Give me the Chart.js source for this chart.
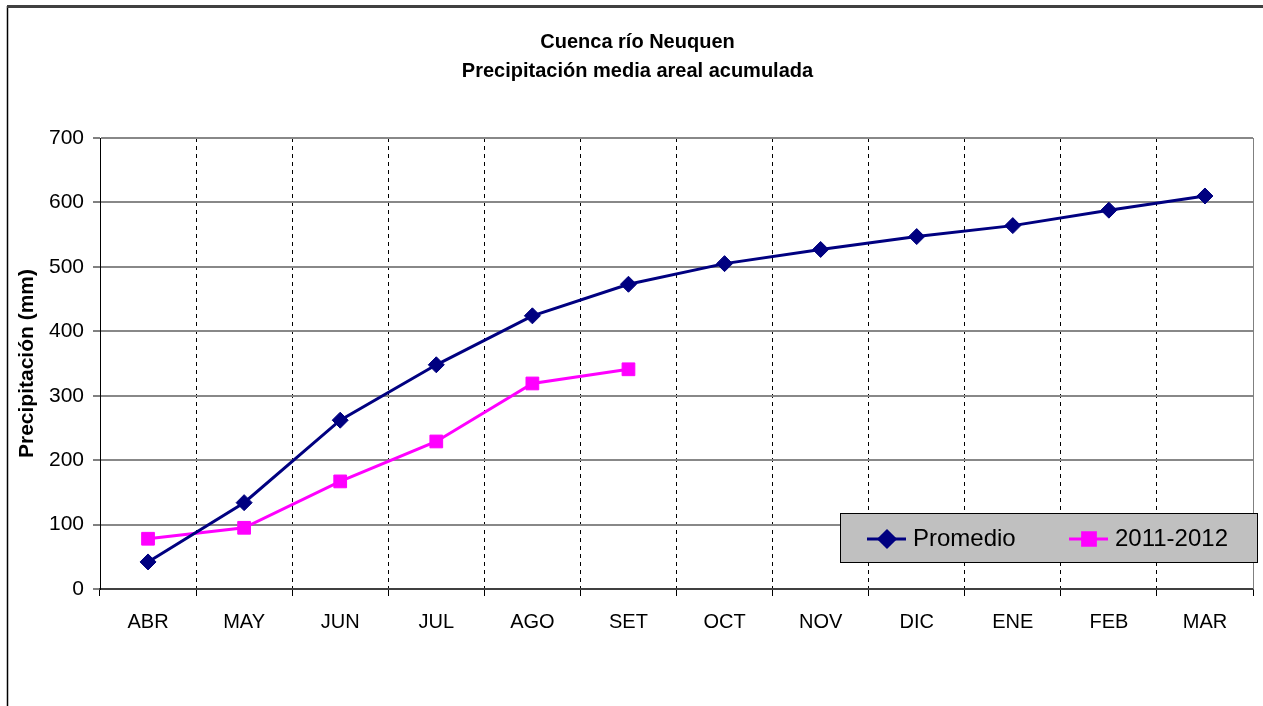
<!DOCTYPE html>
<html>
<head>
<meta charset="utf-8">
<title>Cuenca río Neuquen</title>
<script src="https://cdn.jsdelivr.net/npm/chart.js@4.4.1/dist/chart.umd.min.js"></script>
<style>
  html, body { margin: 0; padding: 0; background: #fff; }
  #wrap { width: 1263px; height: 706px; position: relative; }
</style>
</head>
<body>
<div id="wrap"><canvas id="precipChart"></canvas></div>
<script>
var meses = ["ABR", "MAY", "JUN", "JUL", "AGO", "SET", "OCT", "NOV", "DIC", "ENE", "FEB", "MAR"];
var promedio = [42, 134, 262, 348, 424, 473, 505, 527, 547, 564, 588, 610];
var temporada = [78, 95, 167, 229, 319, 341];
var yTicks = [0, 100, 200, 300, 400, 500, 600, 700];

var fuente = "'Liberation Sans', Arial, sans-serif";

// fondo blanco y marco exterior del grafico
var marco = {
    id: "marco",
    beforeDraw: function(chart) {
        var ctx = chart.ctx;
        ctx.save();
        ctx.fillStyle = "#fff";
        ctx.fillRect(0, 0, chart.width, chart.height);
        ctx.strokeStyle = "#000";
        ctx.lineWidth = 1.5;
        ctx.beginPath();
        ctx.moveTo(7.5, 6);
        ctx.lineTo(7.5, chart.height);
        ctx.stroke();
        ctx.strokeStyle = "#404040";
        ctx.lineWidth = 3;
        ctx.beginPath();
        ctx.moveTo(7, 6.5);
        ctx.lineTo(chart.width, 6.5);
        ctx.stroke();
        ctx.restore();
    },
    beforeDatasetsDraw: function(chart) {
        var a = chart.chartArea;
        var ctx = chart.ctx;
        ctx.save();
        ctx.strokeStyle = "#808080";
        ctx.lineWidth = 1;
        ctx.beginPath();
        ctx.moveTo(Math.round(a.right) + 0.5, a.top);
        ctx.lineTo(Math.round(a.right) + 0.5, a.bottom);
        ctx.stroke();
        ctx.restore();
    }
};

// leyenda en recuadro gris dentro del area del grafico
var leyenda = {
    id: "leyenda",
    afterDatasetsDraw: function(chart) {
        var ctx = chart.ctx;
        var x0 = 840, y0 = 513, w = 417, h = 49;
        ctx.save();
        ctx.fillStyle = "#c0c0c0";
        ctx.fillRect(x0, y0, w, h);
        ctx.strokeStyle = "#000";
        ctx.lineWidth = 1;
        ctx.strokeRect(x0 + 0.5, y0 + 0.5, w, h);

        var posiciones = [867, 1069];
        var yc = 539;
        chart.data.datasets.forEach(function(ds, i) {
            var lx = posiciones[i];
            ctx.strokeStyle = ds.borderColor;
            ctx.lineWidth = ds.borderWidth;
            ctx.beginPath();
            ctx.moveTo(lx, yc);
            ctx.lineTo(lx + 39, yc);
            ctx.stroke();
            ctx.fillStyle = ds.pointBackgroundColor;
            ctx.strokeStyle = ds.pointBorderColor;
            Chart.helpers.drawPoint(ctx, {
                pointStyle: ds.pointStyle,
                radius: ds.pointRadius,
                borderWidth: 1,
                rotation: 0
            }, lx + 20, yc);
            ctx.fillStyle = "#000";
            ctx.font = "24px " + fuente;
            ctx.textBaseline = "middle";
            ctx.textAlign = "left";
            ctx.fillText(ds.label, lx + 46, yc);
        });
        ctx.restore();
    }
};

var ctx = document.getElementById("precipChart");
var grafico = new Chart(ctx, {
    type: "line",
    data: {
        labels: meses,
        datasets: [
            {
                label: "Promedio",
                data: promedio,
                borderColor: "#000080",
                backgroundColor: "#000080",
                borderWidth: 3,
                pointStyle: "rectRot",
                pointRadius: 8,
                pointBackgroundColor: "#000080",
                pointBorderColor: "#000080",
                pointBorderWidth: 1,
                fill: false,
                tension: 0
            },
            {
                label: "2011-2012",
                data: temporada,
                borderColor: "#ff00ff",
                backgroundColor: "#ff00ff",
                borderWidth: 3,
                pointStyle: "rect",
                pointRadius: 9,
                pointBackgroundColor: "#ff00ff",
                pointBorderColor: "#ff00ff",
                pointBorderWidth: 1,
                fill: false,
                tension: 0
            }
        ]
    },
    options: {
        responsive: true,
        maintainAspectRatio: false,
        animation: false,
        layout: { padding: { left: 22, right: 10, top: 0, bottom: 0 } },
        plugins: {
            legend: { display: false },
            tooltip: { enabled: false },
            title: {
                display: true,
                text: ["Cuenca río Neuquen", "Precipitación media areal acumulada"],
                color: "#000",
                font: { family: fuente, size: 20, weight: "bold", lineHeight: 1.45 },
                padding: { top: 28, bottom: 52 }
            }
        },
        scales: {
            x: {
                type: "category",
                offset: true,
                afterFit: function(scale) { scale.height = 117; },
                grid: {
                    offset: true,
                    color: function(c) {
                        return (c.index === 0 || c.index >= meses.length) ? "rgba(0,0,0,0)" : "#000";
                    },
                    lineWidth: 1,
                    tickLength: 7,
                    tickColor: "#000",
                    tickBorderDash: [],
                    drawOnChartArea: true
                },
                border: { display: true, color: "#404040", width: 2, dash: [4, 4] },
                ticks: {
                    color: "#000",
                    font: { family: fuente, size: 20 },
                    padding: 14,
                    maxRotation: 0,
                    autoSkip: false
                }
            },
            y: {
                min: 0,
                max: 700,
                afterFit: function(scale) { scale.width = 78; },
                afterBuildTicks: function(scale) {
                    scale.ticks = yTicks.map(function(v) { return { value: v }; });
                },
                grid: {
                    color: "#888",
                    lineWidth: 2,
                    tickLength: 7,
                    tickColor: "#000",
                    tickWidth: 1
                },
                border: { display: true, color: "#000", width: 1 },
                ticks: {
                    color: "#000",
                    font: { family: fuente, size: 21 },
                    padding: 9
                },
                title: {
                    display: true,
                    text: "Precipitación (mm)",
                    color: "#000",
                    font: { family: fuente, size: 21, weight: "bold", lineHeight: 1 },
                    padding: { top: -5, bottom: 0 }
                }
            }
        }
    },
    plugins: [marco, leyenda]
});
</script>
</body>
</html>
